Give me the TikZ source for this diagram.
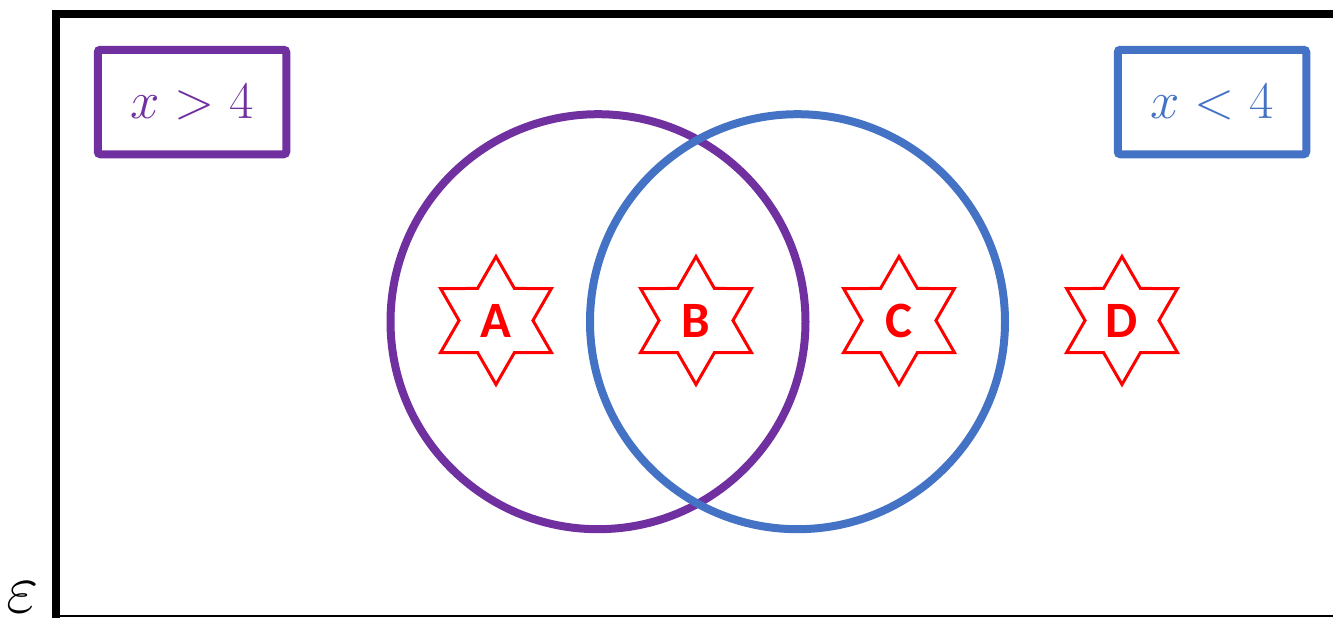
\RequirePackage{fix-cm}
\documentclass[tikz,border=0pt]{standalone}
\usepackage{amsmath,amssymb}
\usepackage{fontspec}
\usepackage{tikz}
\usetikzlibrary{positioning,shapes.geometric}
\usepackage{xcolor}
\definecolor{VennPurple}{HTML}{7030A0}
\definecolor{VennBlue}{HTML}{4472C4}
\definecolor{VennRed}{HTML}{FF0000}
\newfontfamily\starfont{Carlito}

\begin{document}
\begin{tikzpicture}[
    setbox/.style={draw,line width=0.16cm,rounded corners=1.5pt,inner sep=0pt,
      minimum width=3.77cm,minimum height=2.09cm,font=\fontsize{30}{36}\selectfont},
    setring/.style={draw,circle,line width=0.16cm,inner sep=0pt,minimum size=8.3cm},
    starmark/.style={draw=VennRed,star,star points=6,star point ratio=1.732,
      line width=0.06cm,inner sep=0pt,minimum size=2.56cm,text=VennRed,
      font=\starfont\bfseries\fontsize{29}{34}\selectfont}]
  \useasboundingbox (0,0) rectangle (26.66,12.34);
  % universal set
  \coordinate (ul) at (1.12,12.06);
  \coordinate (ur) at (26.8,12.06);
  \coordinate (ll) at (1.12,-0.05);
  \coordinate (lr) at (26.8,0.03);
  \draw[line width=0.16cm] (ll) -- (ul) -- (ur);
  \draw[line width=0.04cm] (ll |- lr) -- (lr);
  \node[font=\fontsize{40}{44}\selectfont,inner sep=0pt] (univ) at (0.46,0.4) {$\varepsilon$};
  % labels of the sets
  \node[setbox,VennPurple] (gt) at (3.84,10.3) {$x>4$};
  \node[setbox,VennBlue] (lt) at (24.24,10.3) {$x<4$};
  % the two sets
  \node[setring,VennPurple] (setgt) at (11.96,5.906) {};
  \node[setring,VennBlue] (setlt) at (15.95,5.906) {};
  % elements
  \node[starmark] (a) at (9.92,5.93) {A};
  \node[starmark] (b) at (13.92,5.93) {B};
  \node[starmark] (c) at (17.98,5.93) {C};
  \node[starmark] (d) at (22.44,5.93) {D};
\end{tikzpicture}
\end{document}
